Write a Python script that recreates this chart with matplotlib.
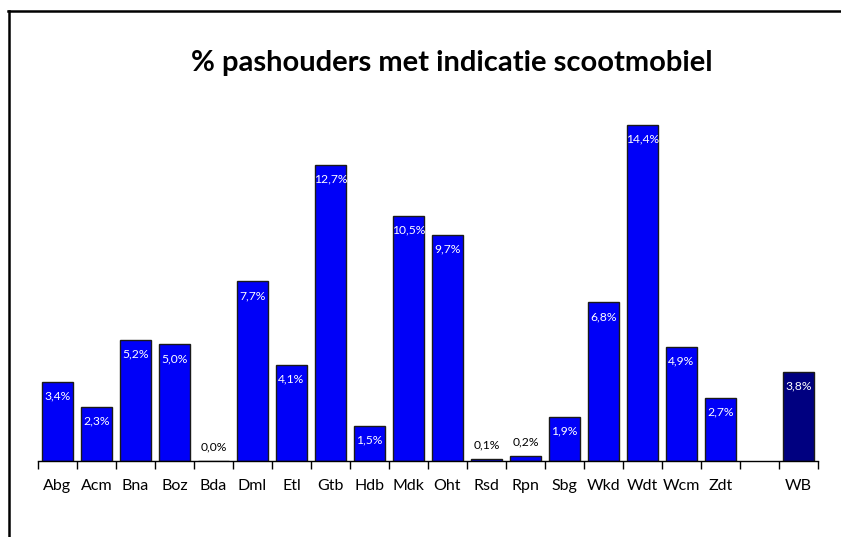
import matplotlib
matplotlib.use("Agg")
import matplotlib.pyplot as plt
from matplotlib.lines import Line2D
import numpy as np

categories = ["Abg", "Acm", "Bna", "Boz", "Bda", "Dml", "Etl", "Gtb", "Hdb", "Mdk",
              "Oht", "Rsd", "Rpn", "Sbg", "Wkd", "Wdt", "Wcm", "Zdt", "", "WB"]
values = [3.4, 2.3, 5.2, 5.0, 0.0, 7.7, 4.1, 12.7, 1.5, 10.5,
          9.7, 0.1, 0.2, 1.9, 6.8, 14.4, 4.9, 2.7, None, 3.8]
labels = ["3,4%", "2,3%", "5,2%", "5,0%", "0,0%", "7,7%", "4,1%", "12,7%", "1,5%", "10,5%",
          "9,7%", "0,1%", "0,2%", "1,9%", "6,8%", "14,4%", "4,9%", "2,7%", "", "3,8%"]
title = "% pashouders met indicatie scootmobiel"

plt.rcParams['font.family'] = ['Lato', 'DejaVu Sans']

fig = plt.figure(figsize=(8.41, 5.37), dpi=100)
ax = fig.add_axes([38/841, (537-461)/537, 780/841, 373/537])

x = np.arange(len(categories))
for xi, v, lab, cat in zip(x, values, labels, categories):
    if v is None:
        continue
    color = "#000080" if cat == "WB" else "#0000F8"
    ax.bar(xi, v, width=0.82, color=color, edgecolor="#1a1a1a", linewidth=1.0, zorder=2)
    if v >= 1.0:
        ax.text(xi, v - 0.6, lab, ha="center", va="center", color="white", fontsize=8.7, zorder=3)
    else:
        ax.text(xi, v + 0.6, lab, ha="center", va="center", color="black", fontsize=8.7, zorder=3)

ax.set_xlim(-0.5, len(categories) - 0.5)
ax.set_ylim(0, 16)
ax.set_xticks(np.arange(-0.5, len(categories)), minor=False)
ax.set_xticklabels([])
ax.set_xticks(x, minor=True)
ax.set_xticklabels(categories, minor=True, fontsize=11.5)
ax.tick_params(axis="x", which="major", direction="out", length=6, width=1, color="black")
ax.tick_params(axis="x", which="minor", length=0, pad=13)
ax.set_yticks([])
for s in ["top", "right", "left"]:
    ax.spines[s].set_visible(False)
ax.spines["bottom"].set_color("black")
ax.spines["bottom"].set_linewidth(1)

fig.text(452/841, 1 - 63/537, title, ha="center", va="center", fontsize=21, fontweight="bold")

# outer frame (left and top only, as cropped)
fig.add_artist(Line2D([9/841, 9/841], [0, 1 - 11/537], color="black", linewidth=1.8))
fig.add_artist(Line2D([8/841, 1], [1 - 11/537, 1 - 11/537], color="black", linewidth=1.8))

fig.savefig("out.png", dpi=100)
